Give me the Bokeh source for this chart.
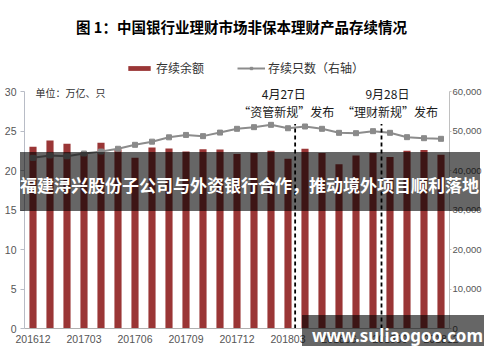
from bokeh.plotting import figure
from bokeh.models import (Range1d, LinearAxis, FixedTicker, NumeralTickFormatter, Label,
                          Legend, LegendItem, Div, InlineStyleSheet)
from bokeh.layouts import column
from bokeh.embed import file_html
from bokeh.resources import INLINE

# ---------------- data ----------------
months = ["201612", "201701", "201702", "201703", "201704", "201705", "201706",
          "201707", "201708", "201709", "201710", "201711", "201712",
          "201801", "201802", "201803", "201804", "201805", "201806",
          "201807", "201808", "201809", "201810", "201811", "201812"]
balance = [23.0, 23.8, 23.4, 22.3, 23.5, 22.7, 21.6, 22.9, 22.8, 22.4, 22.7, 22.65, 22.1,
           22.2, 22.5, 21.5, 22.75, 22.2, 20.8, 21.9, 22.2, 21.7, 22.5, 22.6, 22.0]
count = [43200, 43800, 43600, 44300, 44800, 45500, 46500, 47300, 48400, 49000, 48700, 49600, 50550,
         50970, 51560, 50700, 51140, 50550, 49540, 49450, 49960, 49540, 48440, 48180, 48020]
label_months = [0, 3, 6, 9, 12, 15, 18, 21, 24]
left_ticks = [0, 5, 10, 15, 20, 25, 30]
right_ticks = [0, 10000, 20000, 30000, 40000, 50000, 60000]
event_x = [15.42, 20.5]
event_top = [25.9, 25.9]
event_dates = ["4月27日", "9月28日"]
event_names = ["“资管新规”发布", "“理财新规”发布"]
event_text_x = [14.75, 20.85]

title_text = "图 1：中国银行业理财市场非保本理财产品存续情况"
unit_text = "单位：万亿、只"
legend_labels = ["存续余额", "存续只数（右轴）"]
banner_text = "福建浔兴股份子公司与外资银行合作，推动境外项目顺利落地"
mark_text = "www.suliaogoo.com"

# ---------------- layout constants ----------------
W, H = 484, 346
FL, FB = 24, 328          # frame left / bottom (px from canvas top-left)
Y30 = 91                  # pixel row of the value 30 on the left axis
CJK = "Noto Sans CJK SC"
LAT = "Liberation Sans"

left_max = 30 * FB / (FB - Y30)
right_max = 60000 * FB / (FB - Y30)


def fx(x):
    return x - FL


def fy(y):
    return FB - y


idx = list(range(len(months)))

p = figure(width=W, height=H, x_range=Range1d(-0.5, 24.5), y_range=Range1d(0, left_max),
           output_backend="svg", toolbar_location=None,
           min_border_left=FL, min_border_right=0, min_border_top=0,
           min_border_bottom=H - FB)
p.extra_y_ranges = {"cnt": Range1d(0, right_max)}
p.outline_line_color = None
p.xgrid.visible = False
p.ygrid.visible = False
p.background_fill_color = "white"
p.border_fill_color = "white"

# left axis
ya = p.yaxis[0]
ya.ticker = FixedTicker(ticks=left_ticks)
ya.bounds = (0, 30)
ya.axis_line_color = "#b8bcc6"
ya.major_tick_line_color = "#b8bcc6"
ya.major_tick_out = 4
ya.major_tick_in = 0
ya.minor_tick_line_color = None
ya.major_label_text_font = LAT
ya.major_label_text_font_size = "10.5px"
ya.major_label_text_color = "#555555"
ya.major_label_standoff = 4

# right axis
ra = LinearAxis(y_range_name="cnt", ticker=FixedTicker(ticks=right_ticks),
                formatter=NumeralTickFormatter(format="0,0"), bounds=(0, 60000))
ra.axis_line_color = "#c0c0c0"
ra.major_tick_line_color = "#c0c0c0"
ra.major_tick_out = 2
ra.major_tick_in = 0
ra.minor_tick_line_color = None
ra.major_label_text_font = LAT
ra.major_label_text_font_size = "9.5px"
ra.major_label_text_color = "#555555"
ra.major_label_standoff = 1
p.add_layout(ra, "right")

# x axis
xa = p.xaxis[0]
xa.ticker = FixedTicker(ticks=label_months)
xa.major_label_overrides = {i: months[i] for i in label_months}
xa.axis_line_color = "#b0b0b0"
xa.major_tick_line_color = None
xa.major_tick_out = 0
xa.major_tick_in = 0
xa.minor_tick_line_color = None
xa.major_label_text_font = LAT
xa.major_label_text_font_size = "10.5px"
xa.major_label_text_color = "#555555"
xa.major_label_standoff = 6

bars = p.vbar(x=idx, top=balance, width=0.42, fill_color="#9a3636", line_color=None)
ln = p.line(x=idx, y=count, y_range_name="cnt", line_color="#8c8c8c", line_width=2)
mk = p.scatter(x=idx, y=count, y_range_name="cnt", marker="square", size=5,
               fill_color="#8a8a8a", line_color="#8a8a8a")

p.segment(x0=event_x, y0=[0] * len(event_x), x1=event_x, y1=event_top,
          line_color="black", line_width=1.8, line_dash="4 3")

for ex, d, n in zip(event_text_x, event_dates, event_names):
    p.add_layout(Label(x=ex, y=fy(93), x_units="data", y_units="screen", text=d,
                       text_font=CJK, text_font_size="12px", text_color="#1a1a1a",
                       text_align="center", text_baseline="middle"))
    p.add_layout(Label(x=ex + 0.15, y=fy(111), x_units="data", y_units="screen", text=n,
                       text_font=CJK, text_font_size="12px", text_color="#1a1a1a",
                       text_align="center", text_baseline="middle"))

legend = Legend(items=[LegendItem(label=legend_labels[0], renderers=[bars]),
                       LegendItem(label=legend_labels[1], renderers=[ln, mk])],
                orientation="horizontal", location=(fx(125), fy(76)),
                border_line_color=None, background_fill_alpha=0,
                glyph_width=28, glyph_height=6, label_text_font=CJK,
                label_text_font_size="12px", label_text_color="#333333",
                spacing=33, padding=0, margin=0, label_standoff=3, label_height=14)
p.add_layout(legend)

p.add_layout(Label(x=fx(241), y=fy(25.5), x_units="screen", y_units="screen", text=title_text,
                   text_font=CJK, text_font_style="bold", text_font_size="14.5px",
                   text_color="black", text_align="center", text_baseline="middle"))
p.add_layout(Label(x=fx(35), y=fy(92), x_units="screen", y_units="screen", text=unit_text,
                   text_font=CJK, text_font_size="10px", text_color="#333333",
                   text_align="left", text_baseline="middle"))


# ---------------- overlays (page elements on top of the chart) ----------------
def overlay(text, left, top, width, height, font, size, pad_left, pad_top, line_h):
    css = (":host { position: absolute !important; left: %dpx !important; top: %dpx !important; "
           "width: %dpx !important; height: %dpx !important; margin: 0 !important; "
           "background-color: rgba(0,0,0,0.6) !important; overflow: hidden !important; "
           "z-index: 10 !important; }" % (left, top, width, height))
    html = ('<div style="white-space:nowrap; color:#ffffff; font-family:\'%s\'; font-weight:bold; '
            'font-size:%dpx; line-height:%dpx; padding-left:%dpx; padding-top:%dpx; margin:0;">%s</div>'
            % (font, size, line_h, pad_left, pad_top, text))
    return Div(text=html, width=width, height=height,
               styles={"position": "absolute", "left": "%dpx" % left, "top": "%dpx" % top},
               stylesheets=[InlineStyleSheet(css=css)])


banner = overlay(banner_text, 20, 152, 460, 59, CJK, 17, 0, 22, 22)
mark = overlay(mark_text, 302, 315, W - 302, H - 315, "Noto Sans", 17, 10, 11, 20)

page = column(p, banner, mark, styles={"position": "relative"})

open("out.html", "w").write(file_html(page, INLINE))
